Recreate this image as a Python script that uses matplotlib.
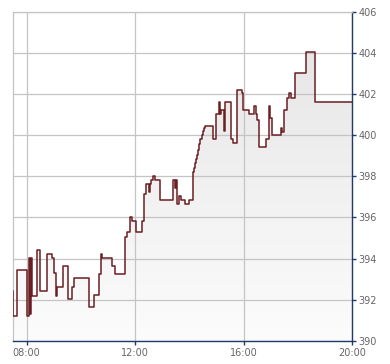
import matplotlib
matplotlib.use('Agg')
import matplotlib.pyplot as plt
import numpy as np
from matplotlib.patches import PathPatch
from matplotlib.colors import LinearSegmentedColormap

times = ["07:29", "07:30", "07:38", "08:00", "08:05", "08:08", "08:10", "08:12", "08:23", "08:30",
         "08:46", "08:57", "09:00", "09:05", "09:07", "09:21", "09:31", "09:41", "09:45", "10:18",
         "10:28", "10:39", "10:44", "10:46", "11:09", "11:16", "11:38", "11:41", "11:49", "11:52",
         "12:01", "12:15", "12:20", "12:25", "12:30", "12:33", "12:36", "12:39", "12:44", "12:56",
         "13:24", "13:29", "13:30", "13:33", "13:36", "13:42", "13:51", "14:00", "14:09", "14:11",
         "14:13", "14:15", "14:18", "14:20", "14:22", "14:24", "14:29", "14:31", "14:33", "14:35",
         "14:53", "14:58", "15:06", "15:07", "15:09", "15:17", "15:19", "15:32", "15:37", "15:46",
         "15:56", "15:59", "16:13", "16:22", "16:27", "16:30", "16:34", "16:49", "16:56", "16:58",
         "17:03", "17:23", "17:26", "17:30", "17:36", "17:40", "17:44", "17:54", "18:18", "18:39",
         "20:00"]

values = [392.43, 391.23, 393.44, 391.23, 394.04, 391.30, 394.04, 392.20, 394.41, 392.43,
          394.22, 394.02, 393.29, 392.20, 392.61, 393.66, 392.03, 392.61, 393.05, 391.64,
          392.22, 393.27, 394.22, 394.02, 393.66, 393.27, 395.04, 395.27, 396.02, 395.82,
          395.27, 395.82, 397.15, 397.62, 397.23, 397.62, 397.83, 398.03, 397.83, 396.86,
          397.82, 397.43, 397.82, 396.66, 397.04, 396.84, 396.66, 396.84, 398.19, 398.38,
          398.64, 398.83, 399.05, 399.26, 399.58, 399.81, 399.99, 400.18, 400.33, 400.46,
          399.82, 401.04, 401.61, 401.04, 401.22, 400.21, 401.61, 399.81, 399.63, 402.21,
          402.05, 401.24, 401.03, 401.43, 401.03, 400.75, 399.42, 399.82, 401.43, 400.83,
          400.02, 400.36, 400.17, 401.21, 401.80, 402.05, 401.80, 403.02, 404.02, 401.62,
          401.62]

x_tick_labels = ["08:00", "12:00", "16:00", "20:00"]
y_ticks = [390, 392, 394, 396, 398, 400, 402, 404, 406]


def to_min(s):
    h, m = s.split(':')
    return int(h) * 60 + int(m)


t = np.array([to_min(s) for s in times])
v = np.array(values)
xt = [to_min(s) for s in x_tick_labels]

navy = '#1f3b6b'
grid_c = '#c4c4c4'
line_c = '#6b1e22'

fig = plt.figure(figsize=(3.9, 3.64), dpi=100)
ax = fig.add_axes([12.7 / 390, 1 - 341 / 364, (352 - 12.7) / 390, (341 - 11.5) / 364])

poly = ax.fill_between(t, v, y_ticks[0], step='post', facecolor='none', edgecolor='none')
patch = PathPatch(poly.get_paths()[0], transform=ax.transData, fc='none', ec='none')
ax.add_patch(patch)
grad = np.linspace(0, 1, 256).reshape(-1, 1)
cmap = LinearSegmentedColormap.from_list('g', ['#e4e4e4', '#fcfcfc'])
im = ax.imshow(grad, cmap=cmap, aspect='auto', origin='upper',
               extent=[t[0], t[-1], y_ticks[0], y_ticks[-1]], zorder=0.2)
im.set_clip_path(patch)

ax.step(t, v, where='post', color=line_c, lw=1.1, zorder=3)

ax.set_xlim(t[0], t[-1])
ax.set_ylim(y_ticks[0], y_ticks[-1])
ax.set_xticks(xt)
ax.set_xticklabels(x_tick_labels)
ax.set_yticks(y_ticks)
ax.set_yticklabels([str(y) for y in y_ticks])

ax.set_axisbelow(True)
ax.grid(True, color=grid_c, lw=0.9)

for s in ['left', 'top']:
    ax.spines[s].set_color(grid_c)
    ax.spines[s].set_linewidth(0.9)
for s in ['right', 'bottom']:
    ax.spines[s].set_color(navy)
    ax.spines[s].set_linewidth(1.0)

ax.tick_params(axis='y', left=False, right=True, labelleft=False, labelright=True,
               length=3, width=1, color=navy, labelcolor='#666666', labelsize=7, pad=1.5)
ax.tick_params(axis='x', length=3, width=1, color=navy, labelcolor='#666666',
               labelsize=7, pad=2)

fig.savefig('out.png', dpi=100)
